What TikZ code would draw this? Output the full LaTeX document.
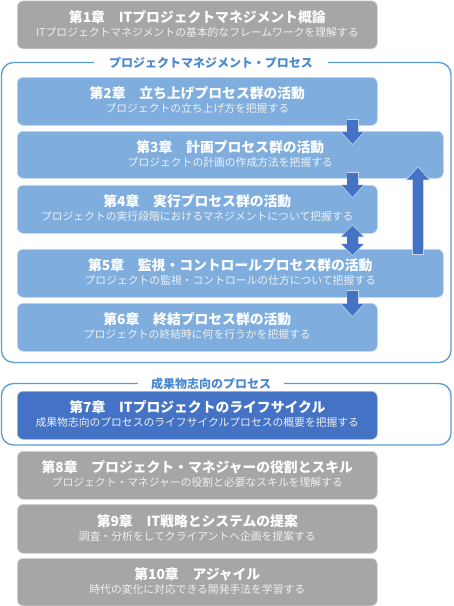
\documentclass[tikz,border=0pt]{standalone}
\usepackage{fontspec}
\setmainfont{Noto Sans CJK JP}
\usetikzlibrary{arrows.meta,calc}
\definecolor{boxgray}{HTML}{A6A6A6}
\definecolor{boxlight}{HTML}{7FAEDE}
\definecolor{boxdark}{HTML}{4472C4}
\definecolor{framecol}{HTML}{5B9BD5}
\definecolor{frametxt}{HTML}{4A89D0}
\definecolor{arrowcol}{HTML}{4472C4}
\tikzset{
  chap/.style={rounded corners=6pt, line width=0.6pt, minimum width=360pt, minimum height=48pt, anchor=north west, inner sep=0pt},
  widechap/.style={chap, minimum width=426pt},
  gbox/.style={chap, fill=boxgray, draw=white!55!boxgray},
  lbox/.style={chap, fill=boxlight, draw=white!50!boxlight},
  lwbox/.style={widechap, fill=boxlight, draw=white!50!boxlight},
  dbox/.style={chap, fill=boxdark, draw=white!50!boxdark},
  ttl/.style={inner sep=0pt, text=white, font=\fontsize{13.8}{15}\selectfont\bfseries},
  sub/.style={inner sep=0pt, text=white!94!black, font=\fontsize{10.8}{12}\selectfont},
  frame/.style={draw=framecol, line width=1.3pt, rounded corners=12pt},
  ftitle/.style={fill=white, inner xsep=15pt, inner ysep=2pt, text=frametxt, font=\fontsize{12}{14}\selectfont\bfseries},
  barrow/.style={draw=arrowcol, line width=10.5pt, -{Triangle[width=21pt,length=12pt]},
    preaction={draw=white!70!arrowcol, line width=12pt, -{Triangle[width=23.5pt,length=13.5pt]}, shorten >=-1pt, shorten <=-0.7pt}},
  bdarrow/.style={draw=arrowcol, line width=10.5pt, {Triangle[width=21pt,length=11pt]}-{Triangle[width=21pt,length=11pt]},
    preaction={draw=white!70!arrowcol, line width=12pt, {Triangle[width=23.5pt,length=12.5pt]}-{Triangle[width=23.5pt,length=12.5pt]}, shorten >=-1pt, shorten <=-1pt}},
}
\begin{document}
\begin{tikzpicture}
\useasboundingbox (0,0) rectangle (454pt,-606pt);
% frames
\draw[frame] (1.5pt,-62.5pt) rectangle (451pt,-362.5pt);
\draw[frame] (1.5pt,-383.5pt) rectangle (451pt,-445pt);
\node[ftitle] (f1) at (211pt,-62.5pt) {プロジェクトマネジメント・プロセス};
\node[ftitle, inner xsep=13pt] (f2) at (211pt,-383.5pt) {成果物志向のプロセス};
% boxes
\node[gbox] (b1) at (17pt,-0.5pt) {};
\node[lbox] (b2) at (17pt,-77pt) {};
\node[lwbox, minimum height=47pt] (b3) at (17pt,-131pt) {};
\node[lbox] (b4) at (17pt,-185pt) {};
\node[lwbox] (b5) at (17pt,-249pt) {};
\node[lbox] (b6) at (17pt,-303pt) {};
\node[dbox] (b7) at (17pt,-391pt) {};
\node[gbox] (b8) at (17pt,-451pt) {};
\node[gbox, minimum height=49pt] (b9) at (17pt,-504pt) {};
\node[gbox, minimum height=47.5pt] (b10) at (17pt,-558pt) {};
% texts
\node[ttl] (t1) at ([yshift=8pt]b1.center) {第1章　ITプロジェクトマネジメント概論};
\node[sub] (s1) at ([yshift=-7.5pt]b1.center) {ITプロジェクトマネジメントの基本的なフレームワークを理解する};
\node[ttl] (t2) at ([yshift=8pt]b2.center) {第2章　立ち上げプロセス群の活動};
\node[sub] (s2) at ([yshift=-7.5pt]b2.center) {プロジェクトの立ち上げ方を把握する};
\node[ttl] (t3) at ([yshift=8pt]b3.center) {第3章　計画プロセス群の活動};
\node[sub] (s3) at ([yshift=-7.5pt]b3.center) {プロジェクトの計画の作成方法を把握する};
\node[ttl] (t4) at ([yshift=8pt]b4.center) {第4章　実行プロセス群の活動};
\node[sub] (s4) at ([yshift=-7.5pt]b4.center) {プロジェクトの実行段階におけるマネジメントについて把握する};
\node[ttl] (t5) at ([yshift=8pt]b5.center) {第5章　監視・コントロールプロセス群の活動};
\node[sub] (s5) at ([yshift=-7.5pt]b5.center) {プロジェクトの監視・コントロールの仕方について把握する};
\node[ttl] (t6) at ([yshift=8pt]b6.center) {第6章　終結プロセス群の活動};
\node[sub] (s6) at ([yshift=-7.5pt]b6.center) {プロジェクトの終結時に何を行うかを把握する};
\node[ttl] (t7) at ([yshift=8pt]b7.center) {第7章　ITプロジェクトのライフサイクル};
\node[sub] (s7) at ([yshift=-7.5pt]b7.center) {成果物志向のプロセスのライフサイクルプロセスの概要を把握する};
\node[ttl] (t8) at ([yshift=8pt]b8.center) {第8章　プロジェクト・マネジャーの役割とスキル};
\node[sub] (s8) at ([yshift=-7.5pt]b8.center) {プロジェクト・マネジャーの役割と必要なスキルを理解する};
\node[ttl] (t9) at ([yshift=8pt]b9.center) {第9章　IT戦略とシステムの提案};
\node[sub] (s9) at ([yshift=-7.5pt]b9.center) {調査・分析をしてクライアントへ企画を提案する};
\node[ttl] (t10) at ([yshift=8pt]b10.center) {第10章　アジャイル};
\node[sub] (s10) at ([yshift=-7.5pt]b10.center) {時代の変化に対応できる開発手法を学習する};
% arrows
\coordinate (ax) at (352.5pt,0pt);
\coordinate (ux) at (418pt,0pt);
\draw[barrow] ([yshift=6pt]b2.south -| ax) -- ([yshift=-13pt]b3.north -| ax);
\draw[barrow] ([yshift=6pt]b3.south -| ax) -- ([yshift=-12pt]b4.north -| ax);
\draw[bdarrow] ([yshift=8pt]b4.south -| ax) -- ([yshift=-6pt]b5.north -| ax);
\draw[barrow] ([yshift=7pt]b5.south -| ax) -- ([yshift=-13pt]b6.north -| ax);
\draw[barrow] ([yshift=-5pt]b5.north -| ux) -- ([yshift=11pt]b3.south -| ux);
\end{tikzpicture}
\end{document}
